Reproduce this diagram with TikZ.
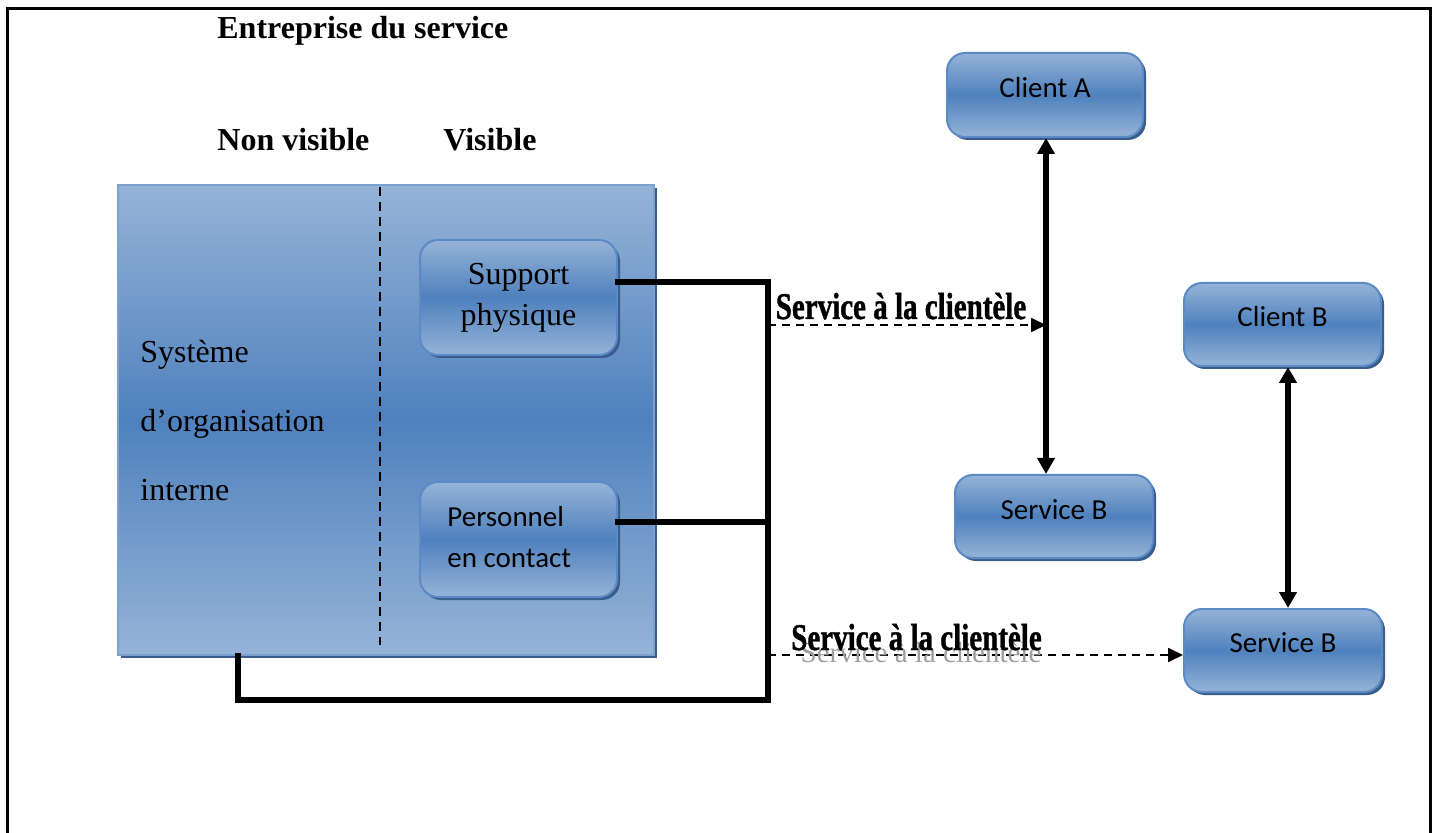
\documentclass[tikz,border=0pt]{standalone}
\usepackage{fontspec}
\setmainfont{Liberation Serif}
\newfontfamily\calfont{Carlito}
\newfontfamily\heavyfont{Liberation Serif}[BoldFeatures={FakeBold=1.2}]
\usetikzlibrary{arrows.meta,shadows}
\definecolor{blueLight}{HTML}{95B3D7}
\definecolor{blueMid}{HTML}{4F81BD}
\definecolor{blueEdge}{HTML}{5B8AC6}
\definecolor{blueShadow}{HTML}{385D8A}
\tikzset{
  x=0.5pt, y=-0.5pt,
  panel/.style={draw=blueEdge, line width=1pt, top color=blueLight,
    bottom color=blueLight, middle color=blueMid,
    drop shadow={fill=blueShadow, opacity=1, shadow xshift=1.5pt, shadow yshift=-1.5pt}},
  card/.style={panel, rounded corners=9pt, minimum width=98.5pt, minimum height=41.5pt, inner sep=0pt},
  tallcard/.style={card, minimum height=57.5pt},
  heading/.style={font=\fontsize{16}{20}\selectfont\bfseries, inner sep=0pt},
  cardtext/.style={font=\calfont\fontsize{14.5}{20.5}\selectfont, inner sep=0pt},
  link/.style={line width=2.6pt, line cap=rect},
  dashlink/.style={line width=0.9pt, dash pattern=on 4pt off 3pt,
    -{Triangle[length=7.5pt,width=7pt]}},
  bothways/.style={line width=2.6pt,
    {Triangle[length=8pt,width=8.5pt]}-{Triangle[length=8pt,width=8.5pt]}},
  flowlabel/.style={anchor=base, inner sep=0pt, font=\heavyfont\fontsize{14.5}{17}\selectfont\bfseries},
}
\begin{document}
\begin{tikzpicture}
\useasboundingbox (0,0) rectangle (1434,833);

% outer frame, open at the bottom
\draw[line width=1.5pt] (7,840) -- (7,9) -- (1430,9) -- (1430,840);

% headings
\node[heading, anchor=west] (title) at (217,31) {Entreprise du service};
\node[heading, anchor=west] (nonvis) at (217,140) {Non visible};
\node[heading, anchor=west] (vis) at (443,140) {Visible};

% company block
\node[panel, draw=blueEdge!80, minimum width=268pt, minimum height=235pt, inner sep=0pt]
  (sys) at (386,420) {};
\draw[line width=1pt, dash pattern=on 4.5pt off 3pt] (380,187) -- (380,645);
\node[anchor=west, align=left, inner sep=0pt, font=\fontsize{16}{34.5}\selectfont]
  (systext) at (140,421) {Système\\d’organisation\\interne};

% visible elements
\node[tallcard] (sp) at (518.5,297.5) {};
\node[align=center, inner sep=0pt, font=\fontsize{16}{20.5}\selectfont]
  (sptext) at (518.5,298) {Support\\physique};
\node[tallcard] (pc) at (518.5,539.5) {};
\node[cardtext, anchor=west, align=left] (pctext) at (447,537) {Personnel\\en contact};

% clients and services
\node[card, minimum width=98pt, minimum height=42pt] (ca) at (1045,95) {};
\node[cardtext] (catext) at (1045,88) {Client A};
\node[card, minimum width=99pt] (sb1) at (1054,516.5) {};
\node[cardtext] (sb1text) at (1054,510) {Service B};
\node[card] (cb) at (1282.5,324.5) {};
\node[cardtext] (cbtext) at (1282.5,317) {Client B};
\node[card, minimum width=99pt] (sb2) at (1283,650.5) {};
\node[cardtext] (sb2text) at (1283,643) {Service B};

% internal links
\coordinate (j1) at (768,282);
\coordinate (j2) at (768,700);
\coordinate (j3) at (238,700);
\coordinate (j4) at (768,522);
\draw[link] (sp.east |- j1) -- (j1) -- (j2) -- (j3) -- (sys.south -| j3);
\draw[link] (pc.east |- j4) -- (j4);

% client / service links
\coordinate (ax1) at (1046,0);
\coordinate (ax2) at (1288,0);
\draw[bothways] (ca.south -| ax1) -- (sb1.north -| ax1);
\draw[bothways] (cb.south -| ax2) -- (sb2.north -| ax2);

% customer service flows
\coordinate (d1) at (768,325);
\coordinate (d2) at (768,655);
\draw[dashlink] (d1) -- (ax1 |- d1);
\draw[dashlink] (d2) -- (sb2.west |- d2);
\node[flowlabel] (fl1) at (901,319) {\scalebox{1}[1.3]{Service à la clientèle}};
\node[anchor=base, inner sep=0pt, text=black!38, font=\fontsize{14.5}{17}\selectfont]
  (fl2shade) at (921,662) {Service à la clientèle};
\node[flowlabel] (fl2) at (916.5,650) {\scalebox{1}[1.3]{Service à la clientèle}};
\end{tikzpicture}
\end{document}
